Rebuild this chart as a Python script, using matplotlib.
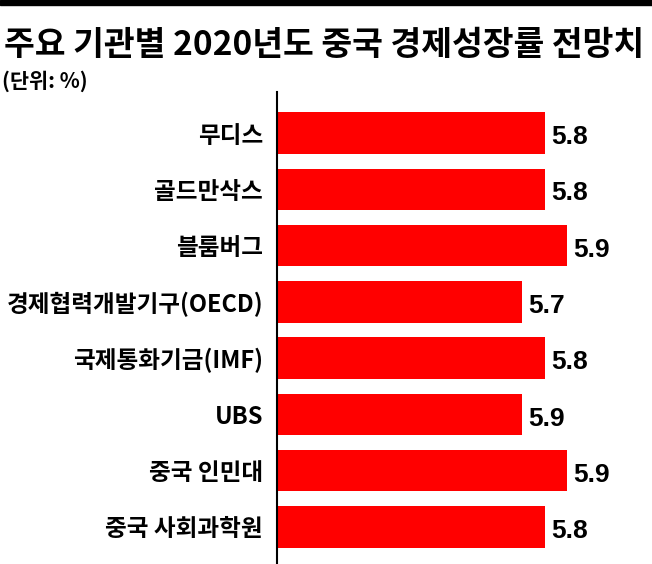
import numpy as np
import matplotlib.pyplot as plt
from matplotlib.patches import Rectangle

plt.rcParams['font.family'] = ['Noto Sans CJK KR', 'DejaVu Sans']

institutions = ["무디스", "골드만삭스", "블룸버그", "경제협력개발기구(OECD)",
                "국제통화기금(IMF)", "UBS", "중국 인민대", "중국 사회과학원"]
# bar lengths as drawn in the picture (the UBS bar is drawn at the 5.7 length)
bar_values = [5.8, 5.8, 5.9, 5.7, 5.8, 5.7, 5.9, 5.8]
# printed value labels
value_labels = ["5.8", "5.8", "5.9", "5.7", "5.8", "5.9", "5.9", "5.8"]

W, H = 652, 564
fig = plt.figure(figsize=(W / 100, H / 100), dpi=100)
fig.patch.set_facecolor('white')

# axes area: from the vertical axis line to the right edge
ax = fig.add_axes([277 / W, 0, (W - 277) / W, (H - 92) / H])

y = np.arange(len(institutions))
ax.barh(y, bar_values, height=0.74, color='#ff0000')
ax.set_xlim(4.61, 4.61 + (W - 277) / 225)
ax.set_ylim(7.66, -0.73)

for i in range(len(institutions)):
    ax.annotate(value_labels[i], xy=(bar_values[i], y[i]),
                xytext=(4.5, -3), textcoords='offset points',
                ha='left', va='center', fontsize=19, fontweight='bold',
                family=['Liberation Sans', 'DejaVu Sans'])

ax.set_yticks(y)
ax.set_yticklabels(institutions, fontsize=17, fontweight='bold')
ax.tick_params(axis='y', length=0, pad=10)
ax.set_xticks([])
for s in ['top', 'right', 'bottom']:
    ax.spines[s].set_visible(False)
ax.spines['left'].set_linewidth(1.5)
ax.spines['left'].set_color('black')

# top black rule
fig.patches.append(Rectangle((0, 1 - 5 / H), 1, 5 / H, transform=fig.transFigure,
                             color='black', zorder=5))

fig.text(4 / W, 1 - 45 / H, "주요 기관별 2020년도 중국 경제성장률 전망치",
         fontsize=24.1, fontweight='bold', ha='left', va='center')
fig.text(2 / W, 1 - 81 / H, "(단위: %)", fontsize=15, fontweight='bold',
         ha='left', va='center')

fig.savefig('out.png', dpi=100)
